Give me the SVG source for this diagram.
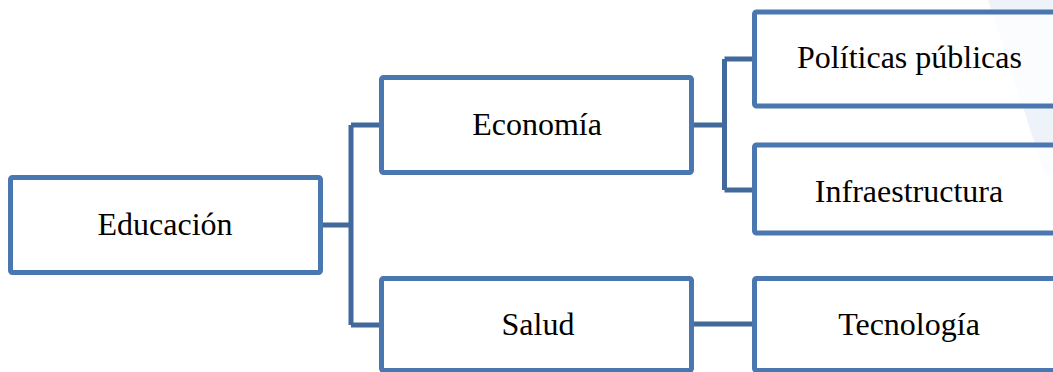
<svg xmlns="http://www.w3.org/2000/svg" width="1053" height="372" viewBox="0 0 1053 372">
  <style>
    .box { fill: #ffffff; stroke: #4A77B0; stroke-width: 5; }
    .lbl { font-family: "Liberation Serif", "Times New Roman", serif; font-size: 32px; fill: #000000; text-anchor: middle; }
    .conn { fill: none; stroke: #41699B; stroke-width: 5; stroke-linejoin: miter; }
  </style>
  <rect width="1053" height="372" fill="#ffffff"/>
  <polygon points="988,0 1053,0 1053,175 1045,175" fill="#EEF3FA"/>
  <g id="connectors">
    <path class="conn" d="M322,225 H351 M351,125 V325 M351,125 H382 M351,325 H382"/>
    <path class="conn" d="M692,125 H724.5 M724.5,59 V190 M724.5,59 H755 M724.5,190 H755"/>
    <path class="conn" d="M692,324 H755"/>
  </g>
  <g id="educacion">
    <rect class="box" x="10.5" y="177.5" width="310" height="95" rx="2"/>
    <text class="lbl" x="165" y="235">Educación</text>
  </g>
  <g id="economia">
    <rect class="box" x="381.5" y="77.5" width="310" height="95" rx="2"/>
    <text class="lbl" x="537" y="135">Economía</text>
  </g>
  <g id="salud">
    <rect class="box" x="381.5" y="278.5" width="310" height="92" rx="2"/>
    <text class="lbl" x="538" y="335">Salud</text>
  </g>
  <g id="politicas">
    <rect class="box" x="754.5" y="12" width="310" height="94" rx="2" fill-opacity="0.7"/>
    <text class="lbl" x="909.5" y="68">Políticas públicas</text>
  </g>
  <g id="infraestructura">
    <rect class="box" x="754.5" y="145" width="310" height="88" rx="2" fill-opacity="0.7"/>
    <text class="lbl" x="909" y="202">Infraestructura</text>
  </g>
  <g id="tecnologia">
    <rect class="box" x="754.5" y="278.5" width="310" height="92" rx="2"/>
    <text class="lbl" x="909" y="335">Tecnología</text>
  </g>
</svg>
